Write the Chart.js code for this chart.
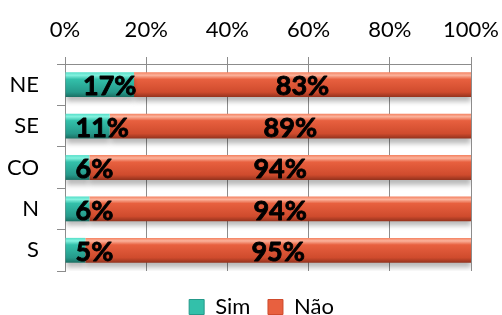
<!DOCTYPE html>
<html><head><meta charset="utf-8">
<script src="https://cdn.jsdelivr.net/npm/chart.js@4"></script>
<style>html,body{margin:0;padding:0;background:#fff;}canvas{display:block;}</style>
</head><body>
<canvas id="c" width="502" height="315"></canvas>
<script>
const categories = ['NE', 'SE', 'CO', 'N', 'S'];
const simValues = [17, 11, 6, 6, 5];
const naoValues = [83, 89, 94, 94, 95];
const seriesNames = ['Sim', 'Não'];
const xTicks = [0, 20, 40, 60, 80, 100];

const FONT = 'Lato, "Open Sans", sans-serif';
const palettes = [
  ['#84f2df', '#55dec8', '#33c0aa', '#25998a', '#1a6e62'],
  ['#fbb39c', '#f4805f', '#e8603f', '#cf4b2d', '#93321d']
];
const gradCache = {};
function bandGradient(ctx, idx) {
  const chart = ctx.chart;
  const area = chart.chartArea;
  if (!area) return palettes[idx][2];
  const ys = chart.scales.y;
  const key = idx + ':' + area.top + ':' + area.bottom;
  if (gradCache[key]) return gradCache[key];
  const g = chart.ctx.createLinearGradient(0, area.top, 0, area.bottom);
  const span = area.bottom - area.top;
  const band = span / categories.length;
  const h = band * 0.6 / 2;
  const p = palettes[idx];
  const n = v => Math.min(1, Math.max(0, (v - area.top) / span));
  categories.forEach((c, i) => {
    const cy = ys.getPixelForValue(i);
    g.addColorStop(n(cy - h), p[1]);
    g.addColorStop(n(cy - h + 3), p[0]);
    g.addColorStop(n(cy - h + 7), p[2]);
    g.addColorStop(n(cy + h - 5), p[3]);
    g.addColorStop(n(cy + h), p[4]);
  });
  gradCache[key] = g;
  return g;
}

const shadowPlugin = {
  id: 'shadow',
  beforeDatasetsDraw(chart) {
    const c = chart.ctx; c.save();
    c.shadowColor = 'rgba(0,0,0,0.28)'; c.shadowBlur = 5; c.shadowOffsetY = 5; c.shadowOffsetX = 0;
  },
  afterDatasetsDraw(chart) { chart.ctx.restore(); }
};

const legendShift = {
  id: 'legendShift',
  afterLayout(chart) {
    const l = chart.legend;
    if (!l) return;
    l.left += 26; l.right += 26;
    l.top += 13; l.bottom += 13;
  }
};

const labelPlugin = {
  id: 'valueLabels',
  afterDatasetsDraw(chart) {
    const c = chart.ctx;
    c.save();
    c.font = 'bold 27px ' + FONT;
    c.fillStyle = '#000';
    c.strokeStyle = '#000';
    c.lineWidth = 0.9;
    c.lineJoin = 'round';
    c.textAlign = 'center';
    c.textBaseline = 'middle';
    chart.data.datasets.forEach((ds, di) => {
      const meta = chart.getDatasetMeta(di);
      meta.data.forEach((el, i) => {
        const txt = ds.data[i] + '%';
        const w = c.measureText(txt).width;
        const center = (el.x + el.base) / 2;
        let x = center;
        if (di === 0) x = Math.max(center + 10, el.base + w / 2 + 10);
        c.fillText(txt, x, el.y + 2);
        c.strokeText(txt, x, el.y + 2);
      });
    });
    c.restore();
  }
};

new Chart(document.getElementById('c'), {
  type: 'bar',
  data: {
    labels: categories,
    datasets: [
      { label: seriesNames[0], data: simValues, backgroundColor: ctx => bandGradient(ctx, 0), borderWidth: 0 },
      { label: seriesNames[1], data: naoValues, backgroundColor: ctx => bandGradient(ctx, 1), borderWidth: 0 }
    ]
  },
  options: {
    indexAxis: 'y',
    responsive: false,
    animation: false,
    devicePixelRatio: 1,
    layout: { padding: { top: 4, right: 31, bottom: 0, left: 0 } },
    datasets: { bar: { barPercentage: 0.6, categoryPercentage: 1 } },
    scales: {
      x: {
        position: 'top', stacked: true, min: 0, max: 100,
        afterBuildTicks: s => { s.ticks = xTicks.map(v => ({ value: v })); },
        ticks: { callback: v => v + '%', color: '#000', font: { family: FONT, size: 22 }, padding: 14 },
        grid: { color: '#8c8c8c', lineWidth: 1, tickLength: 7 },
        border: { color: '#8c8c8c' },
        afterFit: s => { s.height = 60; s.paddingLeft = 0; s.paddingRight = 0; }
      },
      y: {
        stacked: true,
        ticks: { color: '#000', font: { family: FONT, size: 22 }, padding: 18 },
        grid: { color: '#8c8c8c', drawOnChartArea: false, offset: true, tickLength: 8 },
        border: { color: '#8c8c8c' },
        afterFit: s => { s.width = 65; }
      }
    },
    plugins: {
      legend: {
        position: 'bottom',
        labels: {
          color: '#000', font: { family: FONT, size: 22 }, boxWidth: 15, boxHeight: 15, padding: 12,
          generateLabels: chart => chart.data.datasets.map((ds, i) => ({
            text: ds.label + (i === 0 ? ' ' : ''), fillStyle: palettes[i][2], strokeStyle: palettes[i][3], lineWidth: 1, datasetIndex: i, hidden: false
          }))
        }
      },
      tooltip: { enabled: false }
    }
  },
  plugins: [shadowPlugin, legendShift, labelPlugin]
});
</script>
</body></html>
